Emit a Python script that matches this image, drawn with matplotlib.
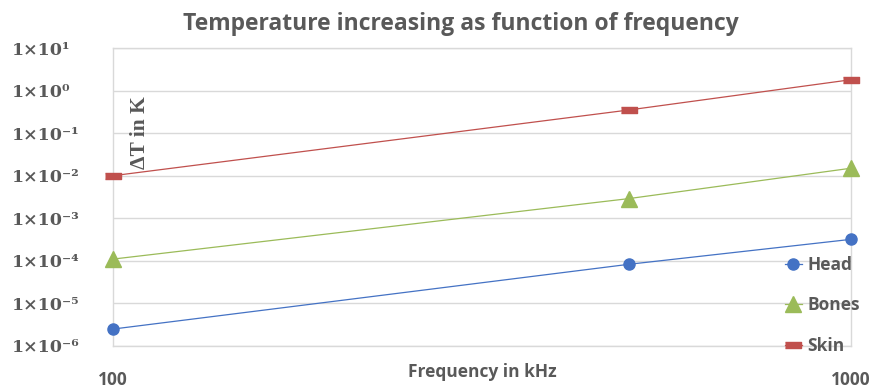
import matplotlib
matplotlib.use("Agg")
import matplotlib.pyplot as plt
import numpy as np

freq = [100, 500, 1000]
head = [2.5e-6, 8.3e-5, 3.2e-4]
bones = [1.1e-4, 2.9e-3, 1.5e-2]
skin = [1.0e-2, 0.35, 1.8]
series_names = ["Head", "Bones", "Skin"]
ytick_vals = [1e-6, 1e-5, 1e-4, 1e-3, 1e-2, 1e-1, 1e0, 1e1]
ytick_labels = ["1×10⁻⁶", "1×10⁻⁵", "1×10⁻⁴", "1×10⁻³", "1×10⁻²", "1×10⁻¹", "1×10⁰", "1×10¹"]
xtick_vals = [100, 1000]
xtick_labels = ["100", "1000"]

TXT = "#595959"
GRID = "#D9D9D9"

fig = plt.figure(figsize=(8.74, 3.88), dpi=100)
ax = fig.add_axes([113/874, 1-346/388, (851-113)/874, (346-48)/388])
ax.set_xscale("log")
ax.set_yscale("log")
ax.set_xlim(100, 1000)
ax.set_ylim(1e-6, 1e1)

bar = [(-1, -0.4), (1, -0.4), (1, 0.4), (-1, 0.4)]
ax.plot(freq, head, color="#4472C4", lw=0.9, marker="o", ms=8, label=series_names[0], clip_on=False, zorder=3)
ax.plot(freq, bones, color="#9BBB59", lw=0.9, marker="^", ms=11, label=series_names[1], clip_on=False, zorder=3)
ax.plot(freq, skin, color="#C0504D", lw=0.9, marker=bar, ms=11, label=series_names[2], clip_on=False, zorder=3)

ax.set_yticks(ytick_vals)
ax.set_yticklabels(ytick_labels, fontfamily=["DejaVu Serif"], fontweight="bold", fontsize=12.5, color=TXT)
ax.yaxis.set_minor_locator(matplotlib.ticker.NullLocator())
ax.xaxis.set_minor_locator(matplotlib.ticker.NullLocator())
ax.tick_params(axis="y", length=0, pad=73)
for lab in ax.get_yticklabels():
    lab.set_horizontalalignment("left")
ax.set_xticks(xtick_vals)
ax.set_xticklabels(xtick_labels, fontfamily="Open Sans", fontweight="bold", fontsize=12.5, color=TXT)
ax.tick_params(axis="x", length=0, pad=18)

ax.grid(True, which="major", axis="y", color=GRID, lw=1)
for s in ax.spines.values():
    s.set_color(GRID)
    s.set_linewidth(1)

ax.set_xlabel("Frequency in kHz", fontfamily="Open Sans", fontweight="bold", fontsize=12.5, color=TXT, labelpad=-19)

ax.text(140/874, 1-133/388, "ΔT in K", transform=fig.transFigure, rotation=90, ha="center", va="center",
        fontfamily="Liberation Serif", fontweight="bold", fontsize=15.5, color=TXT)

fig.text(461/874, 1-24/388, "Temperature increasing as function of frequency", ha="center", va="center",
         fontfamily="Open Sans", fontweight="bold", fontsize=16.5, color=TXT)

leg = ax.legend(loc="upper left", bbox_to_anchor=(776/874, 1-247/388), bbox_transform=fig.transFigure,
                frameon=False, handlelength=1.0, handletextpad=0.3, labelspacing=1.3,
                prop={"family": "Open Sans", "weight": "bold", "size": 12.5}, borderpad=0)
for t in leg.get_texts():
    t.set_color(TXT)

fig.savefig("out.png", dpi=100)
